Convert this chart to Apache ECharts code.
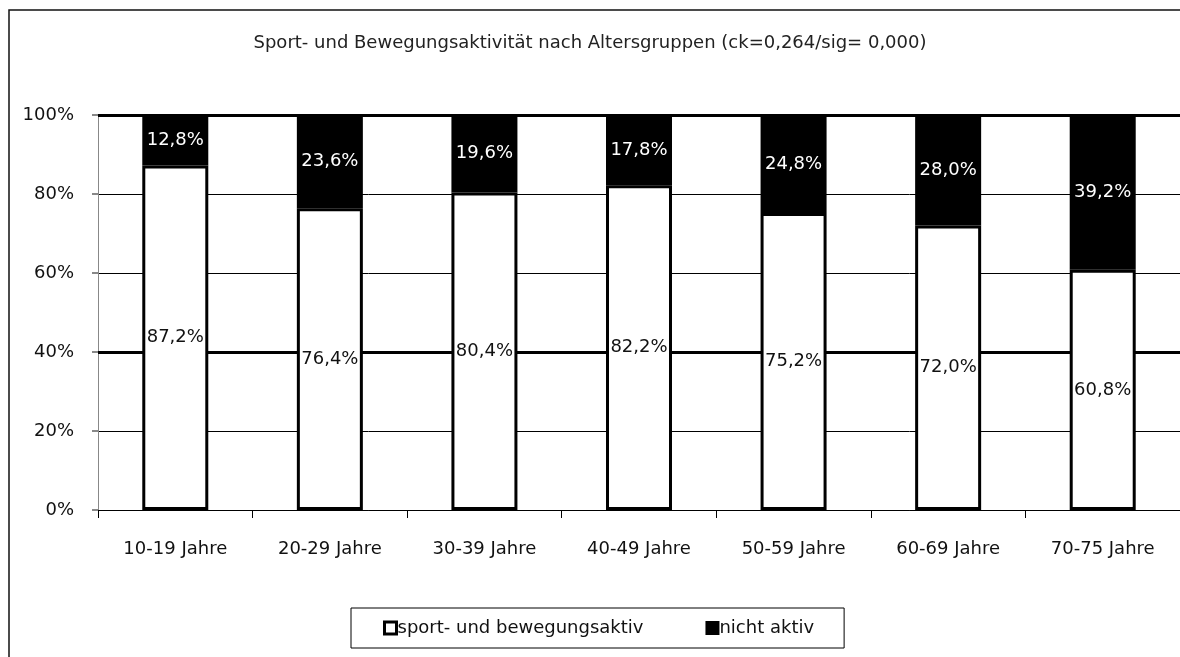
<!DOCTYPE html>
<html>
  <head>
    <meta charset="UTF-8">
    <script src="https://cdn.jsdelivr.net/npm/echarts@6/dist/echarts.min.js"></script>
    <title>Sport- und Bewegungsaktivität</title>
    <style>
      html, body { margin: 0; padding: 0; background: #fff; }
    </style>
  </head>
  <body>
    <div id="main" style="width: 1180px;height:657px;"></div>
    <script type="text/javascript">
      var categories = ['10-19 Jahre', '20-29 Jahre', '30-39 Jahre', '40-49 Jahre', '50-59 Jahre', '60-69 Jahre', '70-75 Jahre'];
      var aktiv = [87.2, 76.4, 80.4, 82.2, 75.2, 72.0, 60.8];
      var nichtAktiv = [12.8, 23.6, 19.6, 17.8, 24.8, 28.0, 39.2];
      var yTicks = [0, 20, 40, 60, 80, 100];
      var thickLines = [40, 100];

      var fontFam = '"DejaVu Sans", sans-serif';

      function pct(p) {
        return p.value.toFixed(1).replace('.', ',') + '%';
      }

      var myChart = echarts.init(document.getElementById('main'));

      var option = {
        backgroundColor: '#fff',
        animation: false,
        title: {
          text: 'Sport- und Bewegungsaktivität nach Altersgruppen (ck=0,264/sig= 0,000)',
          left: 585,
          textAlign: 'center',
          top: 29,
          textStyle: { fontFamily: fontFam, fontSize: 18, fontWeight: 'normal', color: '#222' }
        },
        graphic: [{
          type: 'rect',
          shape: { x: 9, y: 10, width: 1190, height: 660 },
          style: { fill: null, stroke: '#111', lineWidth: 1.5 },
          silent: true
        }],
        legend: {
          bottom: 9,
          left: 351,
          padding: [11, 30, 11, 32],
          borderColor: '#000',
          borderWidth: 1,
          itemWidth: 12,
          itemHeight: 12,
          itemGap: 62,
          icon: 'rect',
          textStyle: { fontFamily: fontFam, fontSize: 18, color: '#111', padding: [0, 0, 0, -4] },
          data: [
            { name: 'sport- und bewegungsaktiv', itemStyle: { color: '#fff', borderColor: '#000', borderWidth: 3 } },
            { name: 'nicht aktiv', itemStyle: { color: '#000' } }
          ]
        },
        grid: { left: 98, right: -12, top: 115, bottom: 147 },
        xAxis: {
          type: 'category',
          data: categories,
          axisLine: { lineStyle: { color: '#000', width: 1 } },
          axisTick: { show: true, length: 8, lineStyle: { color: '#000' } },
          axisLabel: { margin: 30, fontFamily: fontFam, fontSize: 18, color: '#111' }
        },
        yAxis: {
          type: 'value',
          min: yTicks[0],
          max: yTicks[yTicks.length - 1],
          interval: 20,
          axisLine: { show: true, lineStyle: { color: '#888', width: 1 } },
          axisTick: { show: true, length: 6, lineStyle: { color: '#888', width: 2 } },
          axisLabel: { margin: 24, formatter: '{value}%', fontFamily: fontFam, fontSize: 18, color: '#111' },
          splitLine: { lineStyle: { color: '#000', width: 1 } }
        },
        series: [
          {
            name: 'sport- und bewegungsaktiv',
            type: 'bar',
            stack: 'total',
            barWidth: 66,
            data: aktiv,
            itemStyle: { color: '#fff', borderColor: '#000', borderWidth: 3 },
            label: { show: true, position: 'inside', formatter: pct, fontFamily: fontFam, fontSize: 18, color: '#111' },
            markLine: {
              silent: true,
              symbol: 'none',
              z: 1,
              label: { show: false },
              lineStyle: { color: '#000', width: 3, type: 'solid' },
              data: thickLines.map(function (v) { return { yAxis: v }; })
            }
          },
          {
            name: 'nicht aktiv',
            type: 'bar',
            stack: 'total',
            barWidth: 66,
            data: nichtAktiv,
            itemStyle: { color: '#000', borderColor: '#000', borderWidth: 3 },
            label: { show: true, position: 'inside', formatter: pct, fontFamily: fontFam, fontSize: 18, color: '#fff' }
          }
        ]
      };

      myChart.setOption(option);
    </script>
  </body>
</html>
